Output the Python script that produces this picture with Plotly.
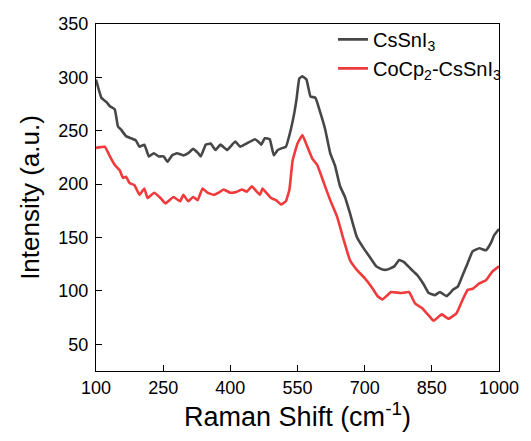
import plotly.graph_objects as go

x_cs = [100, 112, 123, 131, 142, 149, 156, 167, 178, 189, 197, 208, 218, 229, 240, 251, 260, 270,
        281, 295, 306, 317, 328, 334, 345, 356, 367, 378, 393, 411, 422, 436, 455, 462, 469, 477,
        488, 497, 506, 517, 524, 535, 543, 548, 554, 561, 570, 579, 590, 601, 612, 623, 634, 645,
        656, 667, 682, 696, 711, 726, 740, 751, 766, 777, 788, 802, 817, 832, 843, 857, 868, 883,
        897, 908, 919, 930, 941, 956, 971, 982, 989, 1000]
y_cs = [298, 281, 277, 273, 270, 254, 251, 245, 243, 241, 235, 237, 226, 229, 226, 226, 221, 227,
        229, 227, 229, 233, 229, 226, 237, 238, 232, 237, 232, 240, 235, 238, 242, 240, 237, 243,
        242, 227, 232, 234, 235, 251, 267, 280, 299, 301, 298, 282, 281, 267, 251, 229, 217, 198,
        188, 173, 151, 141, 132, 123, 120, 120, 123, 129, 127, 121, 115, 106, 98, 96, 99, 95,
        101, 104, 115, 126, 137, 140, 138, 145, 152, 158]

x_co = [100, 120, 131, 142, 153, 160, 167, 175, 186, 197, 208, 215, 230, 244, 255, 273, 288, 295,
        306, 317, 327, 338, 349, 363, 374, 385, 400, 415, 426, 437, 448, 459, 466, 472, 480, 491,
        502, 513, 524, 532, 539, 550, 561, 572, 583, 594, 609, 623, 638, 653, 667, 682, 700, 715,
        729, 740, 759, 780, 799, 813, 828, 843, 854, 872, 887, 905, 919, 930, 941, 956, 971, 985,
        1000]
y_co = [234, 235, 226, 218, 213, 206, 207, 201, 199, 190, 196, 187, 192, 187, 182, 188, 184, 190,
        184, 188, 185, 196, 192, 190, 192, 195, 192, 193, 195, 193, 198, 193, 190, 196, 192, 187,
        185, 181, 184, 195, 222, 238, 246, 235, 224, 218, 201, 185, 170, 148, 129, 120, 112, 104,
        95, 92, 99, 98, 99, 88, 84, 77, 72, 78, 74, 79, 92, 101, 102, 107, 110, 118,
        123]

x_ticks = [100, 250, 400, 550, 700, 850, 1000]
y_ticks = [50, 100, 150, 200, 250, 300, 350]

fig = go.Figure()
fig.add_trace(go.Scatter(x=x_cs, y=y_cs, mode="lines", name="CsSnI<sub>3</sub>",
                         line=dict(color="#474747", width=2.6, shape="spline", smoothing=0.3)))
fig.add_trace(go.Scatter(x=x_co, y=y_co, mode="lines", name="CoCp<sub>2</sub>-CsSnI<sub>3</sub>",
                         line=dict(color="#f03a3c", width=2.6, shape="spline", smoothing=0.3)))

axis_common = dict(showline=True, linecolor="black", linewidth=1.3, mirror=True,
                   ticks="inside", ticklen=6, tickwidth=1.3, tickcolor="black",
                   showgrid=False, zeroline=False,
                   tickfont=dict(family="Liberation Sans, Arial", size=18, color="black"))

fig.update_layout(
    width=531, height=441,
    margin=dict(l=96, r=26, t=24, b=70),
    plot_bgcolor="white", paper_bgcolor="white",
    font=dict(family="Liberation Sans, Arial", color="black"),
    xaxis=dict(range=[100, 1000], tickvals=x_ticks,
               title=dict(text="Raman Shift (cm<sup>-1</sup>)", font=dict(size=27), standoff=4),
               **axis_common),
    yaxis=dict(range=[25, 350], tickvals=y_ticks, ticklabelstandoff=3,
               title=dict(text="Intensity (a.u.)", font=dict(size=26), standoff=11),
               **axis_common),
    legend=dict(x=0.588, y=1.012, xanchor="left", yanchor="top",
                bgcolor="rgba(0,0,0,0)", font=dict(size=20), tracegroupgap=0),
)

fig.write_html("out.html")
